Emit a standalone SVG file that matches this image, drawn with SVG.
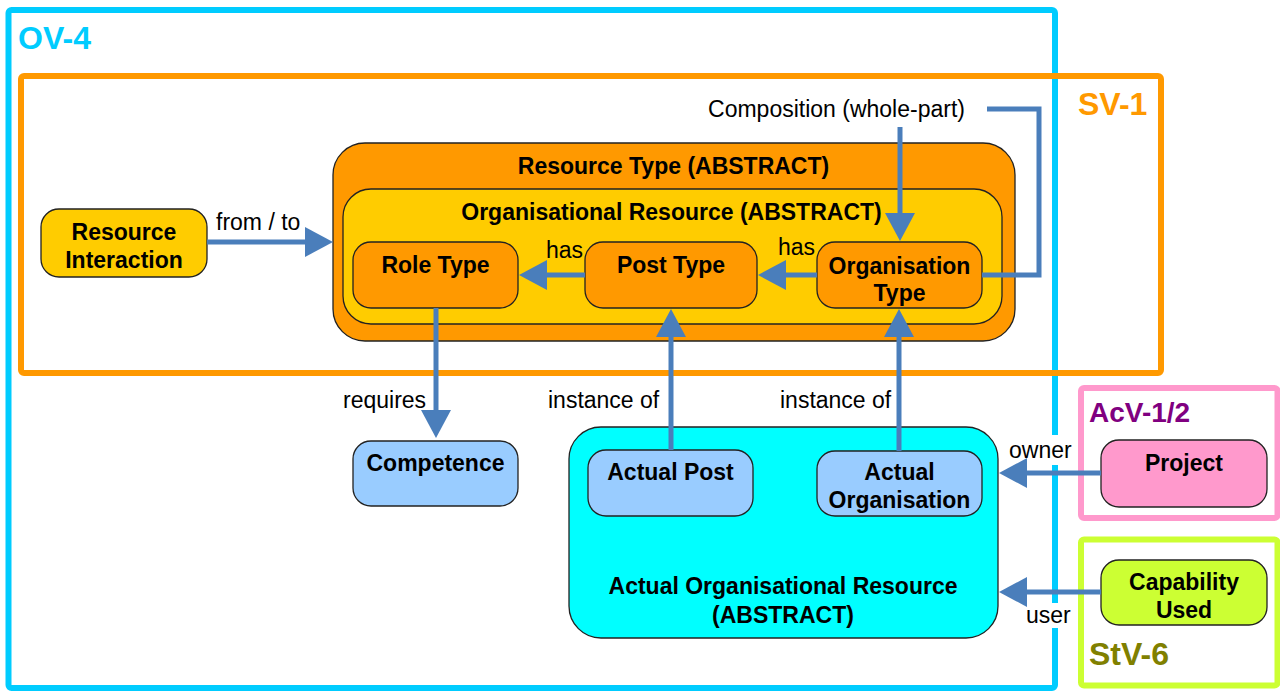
<svg xmlns="http://www.w3.org/2000/svg" width="1280" height="691" viewBox="0 0 1280 691">
<style>
text{font-family:"Liberation Sans",Arial,Helvetica,sans-serif;fill:#000}
.b{font-weight:bold;font-size:23px;text-anchor:middle}
.l{font-size:23px}
.m{text-anchor:middle}
.node{stroke:#222;stroke-width:1.3}
.conn{stroke:#4A7EBB;stroke-width:5;fill:none}
.frame{fill:none;stroke-width:6}
.ft{font-weight:bold}
</style>
<defs>
<marker id="ah" markerUnits="userSpaceOnUse" markerWidth="29" markerHeight="30" refX="0" refY="15" orient="auto" viewBox="0 0 29 30">
<path d="M0,0 L28,15 L0,30 z" fill="#4A7EBB"/>
</marker>
</defs>
<rect width="1280" height="691" fill="#fff"/>

<g id="frame-ov4">
<rect class="frame" x="8.5" y="10" width="1046.5" height="678" rx="3" stroke="#00CCFF"/>
<text x="18" y="49" class="ft" font-size="32" style="fill:#00CCFF">OV-4</text>
</g>
<g id="frame-sv1">
<rect class="frame" x="21" y="76" width="1140" height="297" rx="3" stroke="#FF9900"/>
<text x="1078" y="115" class="ft" font-size="32" style="fill:#FF9900">SV-1</text>
</g>
<g id="frame-acv">
<rect class="frame" x="1081" y="388" width="196.5" height="130" rx="3" stroke="#FF99CC"/>
<text x="1089" y="422" class="ft" font-size="28" style="fill:#800080">AcV-1/2</text>
</g>
<g id="frame-stv">
<rect class="frame" x="1081" y="539.5" width="196.5" height="146" rx="3" stroke="#CCFF33"/>
<text x="1089" y="665" class="ft" font-size="32" style="fill:#808000">StV-6</text>
</g>

<g id="resource-type">
<rect class="node" x="333" y="143" width="682" height="198" rx="32" fill="#FF9900"/>
<text class="b" x="673.5" y="174">Resource Type (ABSTRACT)</text>
</g>
<g id="organisational-resource">
<rect class="node" x="343" y="189" width="659" height="135" rx="28" fill="#FFCC00"/>
<text class="b" x="671.5" y="220">Organisational Resource (ABSTRACT)</text>
</g>
<g id="role-type">
<rect class="node" x="353" y="242" width="165" height="66" rx="18" fill="#FF9900"/>
<text class="b" x="435.5" y="273">Role Type</text>
</g>
<g id="post-type">
<rect class="node" x="585" y="242" width="172" height="66" rx="18" fill="#FF9900"/>
<text class="b" x="671" y="273">Post Type</text>
</g>
<g id="organisation-type">
<rect class="node" x="817" y="242" width="165" height="66" rx="18" fill="#FF9900"/>
<text class="b" x="899.5" y="274">Organisation</text>
<text class="b" x="899.5" y="301">Type</text>
</g>
<g id="resource-interaction">
<rect class="node" x="41" y="209" width="166" height="68" rx="18" fill="#FFCC00"/>
<text class="b" x="124" y="240">Resource</text>
<text class="b" x="124" y="268">Interaction</text>
</g>
<g id="competence">
<rect class="node" x="353" y="441" width="165" height="65" rx="18" fill="#99CCFF"/>
<text class="b" x="435.5" y="471">Competence</text>
</g>
<g id="actual-organisational-resource">
<rect class="node" x="569" y="427" width="429" height="211" rx="32" fill="#00FFFF"/>
<text class="b" x="783" y="594">Actual Organisational Resource</text>
<text class="b" x="783" y="623">(ABSTRACT)</text>
</g>
<g id="actual-post">
<rect class="node" x="588" y="450" width="165" height="66" rx="18" fill="#99CCFF"/>
<text class="b" x="670.5" y="480">Actual Post</text>
</g>
<g id="actual-organisation">
<rect class="node" x="817" y="451" width="165" height="65" rx="18" fill="#99CCFF"/>
<text class="b" x="899.5" y="480">Actual</text>
<text class="b" x="899.5" y="508">Organisation</text>
</g>
<g id="project">
<rect class="node" x="1101" y="440" width="166" height="67" rx="18" fill="#FF99CC"/>
<text class="b" x="1184" y="471">Project</text>
</g>
<g id="capability-used">
<rect class="node" x="1101" y="560" width="166" height="65" rx="18" fill="#CCFF33"/>
<text class="b" x="1184" y="590">Capability</text>
<text class="b" x="1184" y="618">Used</text>
</g>

<g id="connectors">
<path class="conn" d="M207,242 H305" marker-end="url(#ah)"/>
<path class="conn" d="M585,275 H547" marker-end="url(#ah)"/>
<path class="conn" d="M817,275 H786" marker-end="url(#ah)"/>
<path class="conn" d="M900,127 V213" marker-end="url(#ah)"/>
<path class="conn" d="M987,109 H1039 V275 H982"/>
<path class="conn" d="M436,308 V410" marker-end="url(#ah)"/>
<path class="conn" d="M671,450 V337" marker-end="url(#ah)"/>
<path class="conn" d="M899,451 V337" marker-end="url(#ah)"/>
<rect x="1006" y="435" width="71" height="30" fill="#fff"/>
<rect x="1022" y="603" width="52" height="25" fill="#fff"/>
<path class="conn" d="M1101,473 H1027" marker-end="url(#ah)"/>
<path class="conn" d="M1101,592 H1027" marker-end="url(#ah)"/>
<text class="l" x="216" y="230">from / to</text>
<text class="l" x="546" y="258">has</text>
<text class="l" x="778" y="255">has</text>
<text class="l m" x="836.5" y="117">Composition (whole-part)</text>
<text class="l" x="343" y="408">requires</text>
<text class="l" x="548" y="408">instance of</text>
<text class="l" x="780" y="408">instance of</text>
<text class="l" x="1009" y="458">owner</text>
<text class="l" x="1026" y="623">user</text>
</g>
</svg>
